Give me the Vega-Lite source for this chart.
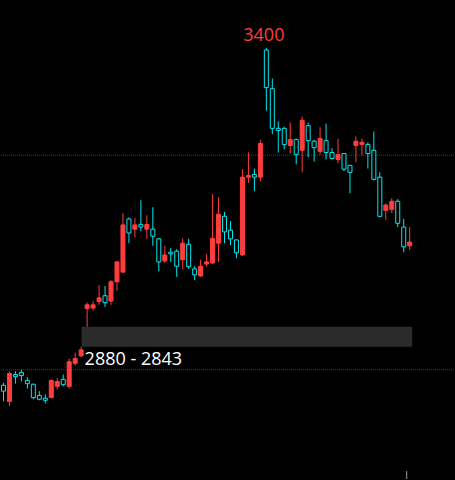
{
  "$schema": "https://vega.github.io/schema/vega-lite/v6.json",
  "width": 455,
  "height": 480,
  "autosize": {"type": "fit", "contains": "padding"},
  "padding": 0,
  "background": "#000000",
  "config": {"view": {"stroke": null}},
  "datasets": {
    "candles": [
      {"i":1,"o":2771,"h":2776,"l":2741,"c":2760},
      {"i":2,"o":2741,"h":2797,"l":2732,"c":2793},
      {"i":3,"o":2791,"h":2797,"l":2774,"c":2787},
      {"i":4,"o":2795,"h":2800,"l":2778,"c":2789},
      {"i":5,"o":2780,"h":2786,"l":2765,"c":2774},
      {"i":6,"o":2773,"h":2774,"l":2745,"c":2748},
      {"i":7,"o":2752,"h":2760,"l":2743,"c":2745},
      {"i":8,"o":2747,"h":2754,"l":2737,"c":2743},
      {"i":9,"o":2748,"h":2782,"l":2747,"c":2780},
      {"i":10,"o":2769,"h":2784,"l":2763,"c":2778},
      {"i":11,"o":2782,"h":2791,"l":2769,"c":2772},
      {"i":12,"o":2769,"h":2821,"l":2765,"c":2815},
      {"i":13,"o":2812,"h":2832,"l":2808,"c":2821},
      {"i":14,"o":2826,"h":2843,"l":2824,"c":2837},
      {"i":15,"o":2914,"h":2925,"l":2880,"c":2921},
      {"i":16,"o":2915,"h":2928,"l":2910,"c":2921},
      {"i":17,"o":2927,"h":2958,"l":2921,"c":2934},
      {"i":18,"o":2938,"h":2956,"l":2917,"c":2925},
      {"i":19,"o":2928,"h":2967,"l":2921,"c":2964},
      {"i":20,"o":2964,"h":3003,"l":2947,"c":3001},
      {"i":21,"o":2982,"h":3092,"l":2981,"c":3070},
      {"i":22,"o":3081,"h":3084,"l":3036,"c":3055},
      {"i":23,"o":3062,"h":3083,"l":3047,"c":3070},
      {"i":24,"o":3071,"h":3116,"l":3058,"c":3066},
      {"i":25,"o":3062,"h":3088,"l":3044,"c":3071},
      {"i":26,"o":3062,"h":3103,"l":3031,"c":3049},
      {"i":27,"o":3044,"h":3045,"l":2984,"c":3001},
      {"i":28,"o":3003,"h":3031,"l":2999,"c":3014},
      {"i":29,"o":3019,"h":3027,"l":3001,"c":3016},
      {"i":30,"o":3021,"h":3025,"l":2973,"c":2993},
      {"i":31,"o":3005,"h":3045,"l":2988,"c":3036},
      {"i":32,"o":3034,"h":3044,"l":2988,"c":2992},
      {"i":33,"o":2988,"h":2993,"l":2967,"c":2977},
      {"i":34,"o":2975,"h":3005,"l":2973,"c":2993},
      {"i":35,"o":2997,"h":3016,"l":2992,"c":3001},
      {"i":36,"o":2999,"h":3127,"l":2997,"c":3045},
      {"i":37,"o":3036,"h":3122,"l":3001,"c":3090},
      {"i":38,"o":3086,"h":3094,"l":3036,"c":3057},
      {"i":39,"o":3060,"h":3077,"l":3032,"c":3044},
      {"i":40,"o":3042,"h":3043,"l":3008,"c":3018},
      {"i":41,"o":3014,"h":3174,"l":3012,"c":3159},
      {"i":42,"o":3159,"h":3205,"l":3148,"c":3162},
      {"i":43,"o":3164,"h":3175,"l":3133,"c":3159},
      {"i":44,"o":3159,"h":3229,"l":3151,"c":3222},
      {"i":45,"o":3396,"h":3400,"l":3283,"c":3326},
      {"i":46,"o":3324,"h":3343,"l":3239,"c":3250},
      {"i":47,"o":3250,"h":3263,"l":3205,"c":3246},
      {"i":48,"o":3250,"h":3253,"l":3211,"c":3220},
      {"i":49,"o":3218,"h":3261,"l":3203,"c":3229},
      {"i":50,"o":3229,"h":3231,"l":3183,"c":3201},
      {"i":51,"o":3209,"h":3272,"l":3168,"c":3265},
      {"i":52,"o":3255,"h":3261,"l":3196,"c":3227},
      {"i":53,"o":3226,"h":3229,"l":3188,"c":3214},
      {"i":54,"o":3207,"h":3252,"l":3201,"c":3231},
      {"i":55,"o":3227,"h":3259,"l":3192,"c":3205},
      {"i":56,"o":3205,"h":3213,"l":3192,"c":3194},
      {"i":57,"o":3192,"h":3231,"l":3185,"c":3201},
      {"i":58,"o":3203,"h":3204,"l":3170,"c":3174},
      {"i":59,"o":3181,"h":3182,"l":3129,"c":3168},
      {"i":60,"o":3218,"h":3235,"l":3187,"c":3226},
      {"i":61,"o":3220,"h":3231,"l":3200,"c":3224},
      {"i":62,"o":3220,"h":3224,"l":3175,"c":3203},
      {"i":63,"o":3209,"h":3244,"l":3153,"c":3155},
      {"i":64,"o":3159,"h":3168,"l":3084,"c":3086},
      {"i":65,"o":3097,"h":3110,"l":3079,"c":3107},
      {"i":66,"o":3099,"h":3120,"l":3092,"c":3114},
      {"i":67,"o":3114,"h":3118,"l":3066,"c":3073},
      {"i":68,"o":3066,"h":3081,"l":3019,"c":3029},
      {"i":69,"o":3031,"h":3066,"l":3023,"c":3038}
    ],
    "levels": [{"p": 2800}, {"p": 3200}],
    "zone": [{"x1": 14.08, "x2": 69.42, "top": 2880, "bottom": 2843, "label": "2880 - 2843", "li": 15}],
    "peak": [{"i": 45, "p": 3400, "label": "3400"}],
    "marker": [{"i": 68.5, "p1": 2611, "p2": 2596.3}]
  },
  "layer": [
    {
      "data": {"name": "levels"},
      "mark": {"type": "rule", "color": "#8b1e1e", "strokeWidth": 1, "strokeDash": [1, 1]},
      "encoding": {
        "y": {"field": "p", "type": "quantitative", "scale": {"domain": [2596.3, 3489.3], "nice": false, "zero": false, "padding": 0}, "axis": null}
      }
    },
    {
      "data": {"name": "zone"},
      "mark": {"type": "rect", "color": "#2b2b2b"},
      "encoding": {
        "x": {"field": "x1", "type": "quantitative", "scale": {"domain": [0.5833, 76.4167], "nice": false, "zero": false, "padding": 0}, "axis": null},
        "x2": {"field": "x2"},
        "y": {"field": "top", "type": "quantitative", "scale": {"domain": [2596.3, 3489.3], "nice": false, "zero": false, "padding": 0}, "axis": null},
        "y2": {"field": "bottom"}
      }
    },
    {
      "data": {"name": "candles"},
      "mark": {"type": "rule", "strokeWidth": 1},
      "encoding": {
        "x": {"field": "i", "type": "quantitative", "scale": {"domain": [0.5833, 76.4167], "nice": false, "zero": false, "padding": 0}, "axis": null},
        "y": {"field": "h", "type": "quantitative", "scale": {"domain": [2596.3, 3489.3], "nice": false, "zero": false, "padding": 0}, "axis": null},
        "y2": {"field": "l"},
        "color": {"condition": {"test": "datum.c >= datum.o", "value": "#ff3d3d"}, "value": "#00e8f0"}
      }
    },
    {
      "data": {"name": "candles"},
      "mark": {"type": "bar", "width": 4, "strokeWidth": 1},
      "encoding": {
        "x": {"field": "i", "type": "quantitative", "scale": {"domain": [0.5833, 76.4167], "nice": false, "zero": false, "padding": 0}, "axis": null},
        "y": {"field": "o", "type": "quantitative", "scale": {"domain": [2596.3, 3489.3], "nice": false, "zero": false, "padding": 0}, "axis": null},
        "y2": {"field": "c"},
        "fill": {"condition": {"test": "datum.c >= datum.o", "value": "#ff3d3d"}, "value": "#000000"},
        "stroke": {"condition": {"test": "datum.c >= datum.o", "value": "#ff3d3d"}, "value": "#00e8f0"}
      }
    },
    {
      "data": {"name": "zone"},
      "mark": {"type": "text", "font": "Open Sans", "fontSize": 18, "color": "#ffffff", "align": "left", "baseline": "alphabetic", "dx": -2.5, "dy": 18},
      "encoding": {
        "x": {"field": "li", "type": "quantitative", "scale": {"domain": [0.5833, 76.4167], "nice": false, "zero": false, "padding": 0}, "axis": null},
        "y": {"field": "bottom", "type": "quantitative", "scale": {"domain": [2596.3, 3489.3], "nice": false, "zero": false, "padding": 0}, "axis": null},
        "text": {"field": "label"}
      }
    },
    {
      "data": {"name": "peak"},
      "mark": {"type": "text", "font": "Open Sans", "fontSize": 18, "color": "#ff3d3d", "align": "center", "baseline": "alphabetic", "dx": -2.5, "dy": -7.3},
      "encoding": {
        "x": {"field": "i", "type": "quantitative", "scale": {"domain": [0.5833, 76.4167], "nice": false, "zero": false, "padding": 0}, "axis": null},
        "y": {"field": "p", "type": "quantitative", "scale": {"domain": [2596.3, 3489.3], "nice": false, "zero": false, "padding": 0}, "axis": null},
        "text": {"field": "label"}
      }
    },
    {
      "data": {"name": "marker"},
      "mark": {"type": "rule", "color": "#a0a0a0", "strokeWidth": 1},
      "encoding": {
        "x": {"field": "i", "type": "quantitative", "scale": {"domain": [0.5833, 76.4167], "nice": false, "zero": false, "padding": 0}, "axis": null},
        "y": {"field": "p1", "type": "quantitative", "scale": {"domain": [2596.3, 3489.3], "nice": false, "zero": false, "padding": 0}, "axis": null},
        "y2": {"field": "p2"}
      }
    }
  ]
}
